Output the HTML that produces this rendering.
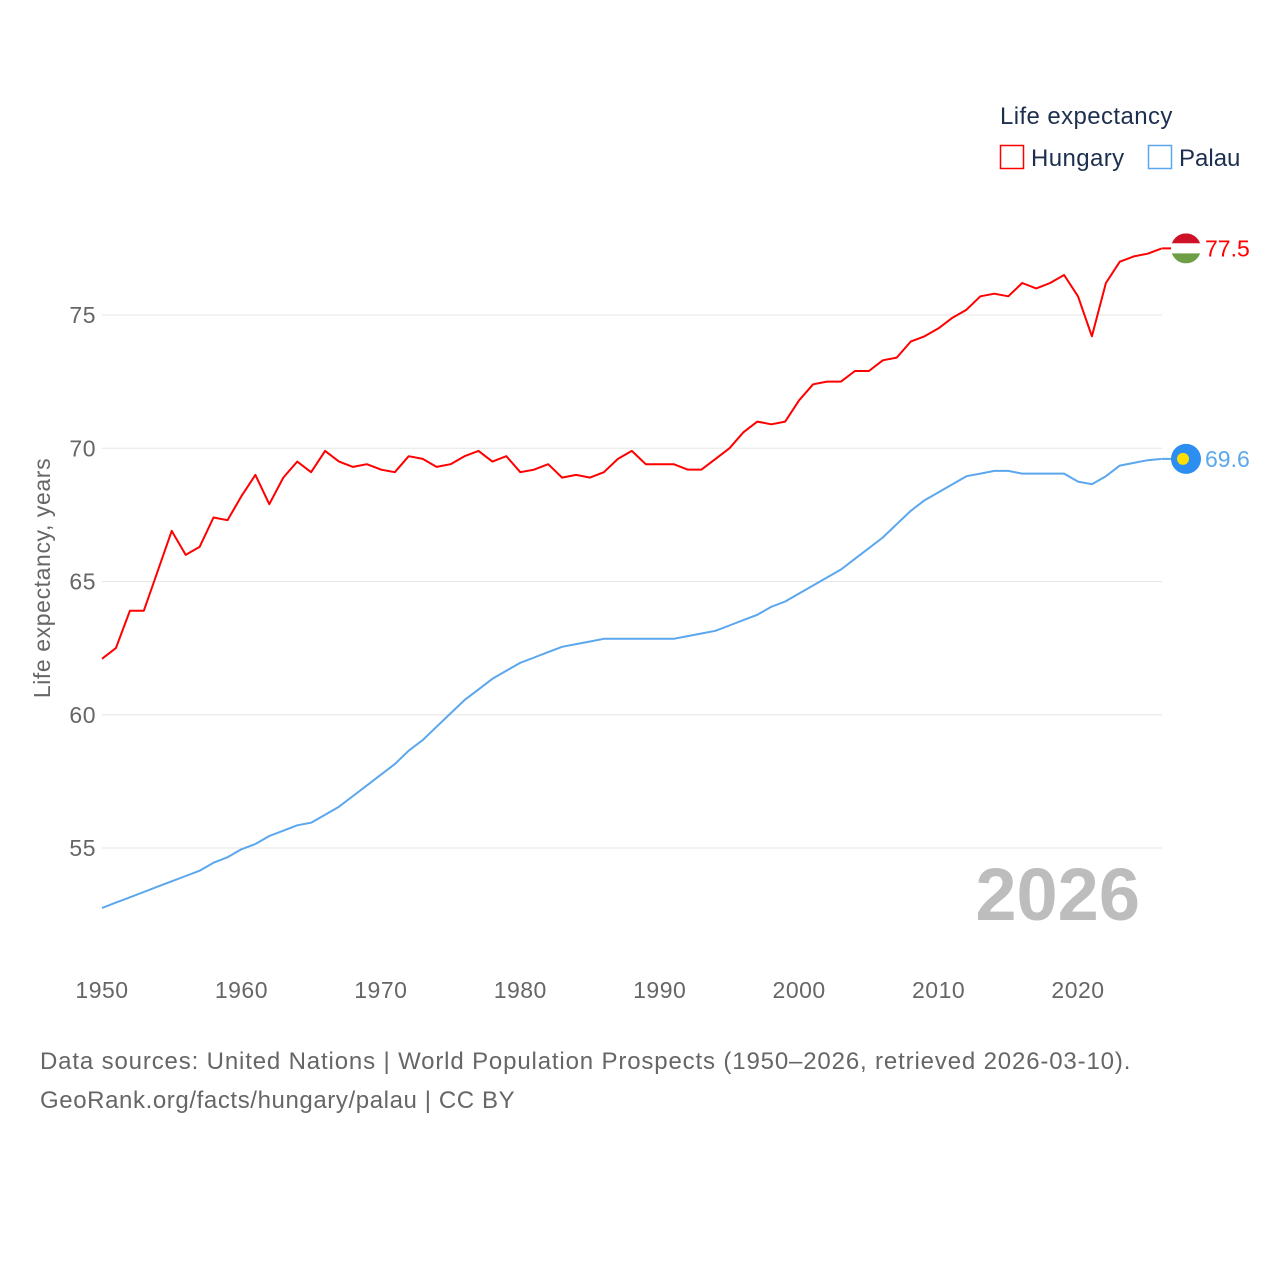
<!DOCTYPE html>
<html><head><meta charset="utf-8"><style>
body{margin:0;background:#fff;}
svg{display:block;font-family:"Liberation Sans",sans-serif;}
</style></head><body>
<svg id="chart" width="1280" height="1280" viewBox="0 0 1280 1280">
<g id="grid"></g>
<g id="yticks"></g>
<g id="xticks"></g>
<text x="50" y="578" transform="rotate(-90 50 578)" text-anchor="middle" font-size="23" letter-spacing="0.6" fill="#666">Life expectancy, years</text>
<text x="1140" y="920" text-anchor="end" font-size="74" font-weight="bold" fill="#bdbdbd">2026</text>
<g id="series"></g>
<g>
<text x="1000" y="124" font-size="24" letter-spacing="0.4" fill="#1d2f4f">Life expectancy</text>
<g><rect x="1000.5" y="145.5" width="23" height="23" fill="none" stroke="#f00" stroke-width="1.5"/><text x="1031" y="166" font-size="24" letter-spacing="0.4" fill="#1d2f4f">Hungary</text></g>
<g><rect x="1148.5" y="145.5" width="23" height="23" fill="none" stroke="#5ba7ee" stroke-width="1.5"/><text x="1179" y="166" font-size="24" fill="#1d2f4f">Palau</text></g>
</g>
<text x="40" y="1069" font-size="24" letter-spacing="0.85" fill="#666">Data sources: United Nations | World Population Prospects (1950–2026, retrieved 2026-03-10).</text>
<text x="40" y="1108" font-size="24" letter-spacing="0.6" fill="#666">GeoRank.org/facts/hungary/palau | CC BY</text>
</svg>
<script>
const years=[];for(let y=1950;y<=2026;y++)years.push(y);
const hungary=[62.1,62.5,63.9,63.9,65.4,66.9,66.0,66.3,67.4,67.3,68.2,69.0,67.9,68.9,69.5,69.1,69.9,69.5,69.3,69.4,69.2,69.1,69.7,69.6,69.3,69.4,69.7,69.9,69.5,69.7,69.1,69.2,69.4,68.9,69.0,68.9,69.1,69.6,69.9,69.4,69.4,69.4,69.2,69.2,69.6,70.0,70.6,71.0,70.9,71.0,71.8,72.4,72.5,72.5,72.9,72.9,73.3,73.4,74.0,74.2,74.5,74.9,75.2,75.7,75.8,75.7,76.2,76.0,76.2,76.5,75.7,74.2,76.2,77.0,77.2,77.3,77.5];
const palau=[52.75,52.95,53.15,53.35,53.55,53.75,53.95,54.15,54.45,54.65,54.95,55.15,55.45,55.65,55.85,55.95,56.25,56.55,56.95,57.35,57.75,58.15,58.65,59.05,59.55,60.05,60.55,60.95,61.35,61.65,61.95,62.15,62.35,62.55,62.65,62.75,62.85,62.85,62.85,62.85,62.85,62.85,62.95,63.05,63.15,63.35,63.55,63.75,64.05,64.25,64.55,64.85,65.15,65.45,65.85,66.25,66.65,67.15,67.65,68.05,68.35,68.65,68.95,69.05,69.15,69.15,69.05,69.05,69.05,69.05,68.75,68.65,68.95,69.35,69.45,69.55,69.6];
const yTicks=[55,60,65,70,75];
const xTicks=[1950,1960,1970,1980,1990,2000,2010,2020];
const NS="http://www.w3.org/2000/svg";
const xs=y=>102+(y-1950)*(1078-102)/70;
const ys=v=>315+(75-v)*26.65;
function mk(tag,attrs,parent){const e=document.createElementNS(NS,tag);for(const k in attrs)e.setAttribute(k,attrs[k]);parent.appendChild(e);return e;}
const grid=document.getElementById('grid'),yt=document.getElementById('yticks'),xt=document.getElementById('xticks'),ser=document.getElementById('series');
yTicks.forEach(v=>{
 const l=mk('line',{x1:102,x2:1162,y1:ys(v),y2:ys(v),stroke:'#e6e6e6','stroke-width':1},grid);
 
 
 const t=mk('text',{x:96,y:ys(v)+8,'text-anchor':'end','font-size':23,'letter-spacing':0.5,fill:'#666'},yt);t.textContent=v;
 
 
});
xTicks.forEach(v=>{
 const t=mk('text',{x:xs(v),y:998,'text-anchor':'middle','font-size':23,'letter-spacing':0.5,fill:'#666'},xt);t.textContent=v;
 
 
});
function line(vals,color,name){
 const d=vals.map((v,i)=>(i?'L':'M')+xs(years[i]).toFixed(1)+' '+ys(v).toFixed(1)).join(' ');
 const p=mk('path',{d:d,fill:'none',stroke:color,'stroke-width':2,'stroke-linejoin':'round'},ser);
 
 
}
line(palau,'#5ba7ee','palau-line');
line(hungary,'#f00','hungary-line');
const lastH=hungary[hungary.length-1],lastP=palau[palau.length-1];
const hy=ys(lastH);
mk('line',{x1:1162,x2:1172,y1:hy,y2:hy,stroke:'#f00','stroke-width':2},ser);
const fg=mk('g',{},ser);


mk('clipPath',{id:'hc'},fg);
mk('circle',{cx:1186,cy:hy,r:15},document.getElementById('hc'));
const cg=mk('g',{'clip-path':'url(#hc)'},fg);
mk('rect',{x:1170,y:hy-15,width:32,height:10,fill:'#ce1126'},cg);
mk('rect',{x:1170,y:hy-5,width:32,height:10,fill:'#fff'},cg);
mk('rect',{x:1170,y:hy+5,width:32,height:10,fill:'#6e9f45'},cg);
const hl=mk('text',{x:1205,y:hy+8,'font-size':23,fill:'#f00'},ser);hl.textContent=lastH.toFixed(1);


const py=ys(lastP);
mk('line',{x1:1162,x2:1172,y1:py,y2:py,stroke:'#5ba7ee','stroke-width':2},ser);
const pf=mk('g',{},ser);


mk('circle',{cx:1186,cy:py,r:15,fill:'#2b8ef0'},pf);
mk('circle',{cx:1183,cy:py,r:6,fill:'#ffde00'},pf);
const pl=mk('text',{x:1205,y:py+8,'font-size':23,fill:'#5ba7ee'},ser);pl.textContent=lastP.toFixed(1);


</script>
</body></html>
